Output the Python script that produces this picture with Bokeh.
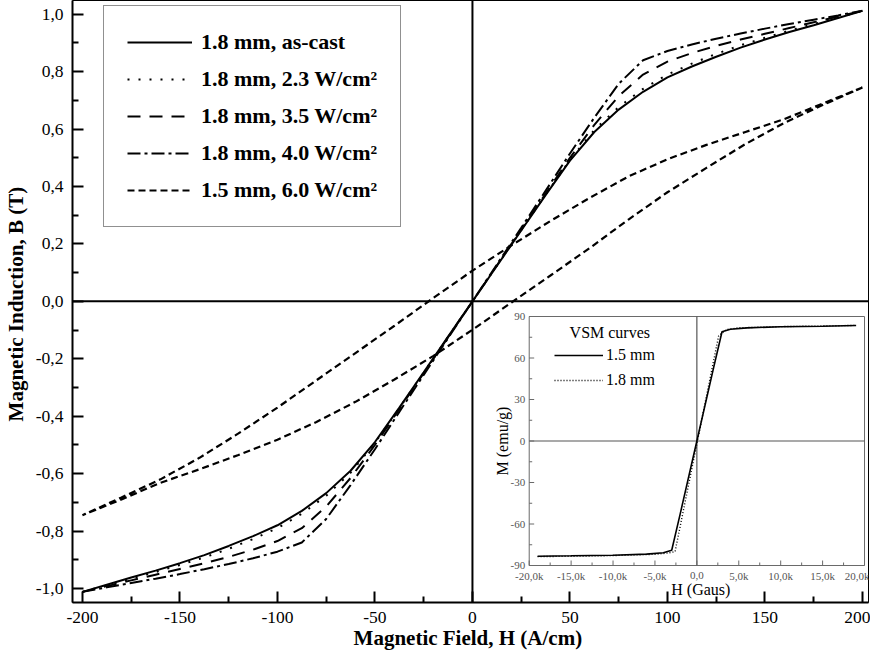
import math
from bokeh.plotting import figure
from bokeh.models import (Range1d, FixedTicker, CustomJSTickFormatter, Span, Legend,
                          LegendItem, Label)
from bokeh.core.properties import value
from bokeh.embed import file_html
from bokeh.resources import INLINE

# ---------------- main chart data (H in A/cm, B in T) ----------------
H_STEP = [-200, -187.5, -175, -162.5, -150, -137.5, -125, -112.5, -100, -87.5, -75, -62.5, -50, -37.5, -25, -12.5,
          0, 12.5, 25, 37.5, 50, 62.5, 75, 87.5, 100, 112.5, 125, 137.5, 150, 162.5, 175, 187.5, 200]
B_ASCAST = [-1.012, -0.987, -0.962, -0.938, -0.912, -0.884, -0.852, -0.818, -0.78, -0.73, -0.668, -0.59, -0.49, -0.37, -0.247, -0.123,
            0.0, 0.123, 0.247, 0.37, 0.49, 0.59, 0.668, 0.73, 0.78, 0.818, 0.852, 0.884, 0.912, 0.938, 0.962, 0.987, 1.012]
B_23 = [-1.012, -0.989, -0.966, -0.943, -0.918, -0.892, -0.862, -0.828, -0.79, -0.74, -0.677, -0.597, -0.493, -0.372, -0.248, -0.124,
        0.0, 0.124, 0.248, 0.372, 0.493, 0.597, 0.677, 0.74, 0.79, 0.828, 0.862, 0.892, 0.918, 0.943, 0.966, 0.989, 1.012]
B_35 = [-1.012, -0.992, -0.972, -0.952, -0.932, -0.912, -0.89, -0.865, -0.835, -0.79, -0.715, -0.615, -0.5, -0.375, -0.25, -0.125,
        0.0, 0.125, 0.25, 0.375, 0.5, 0.615, 0.715, 0.79, 0.835, 0.865, 0.89, 0.912, 0.932, 0.952, 0.972, 0.992, 1.012]
B_40 = [-1.012, -0.996, -0.981, -0.966, -0.95, -0.933, -0.915, -0.895, -0.872, -0.84, -0.758, -0.64, -0.515, -0.385, -0.256, -0.128,
        0.0, 0.128, 0.256, 0.385, 0.515, 0.64, 0.758, 0.84, 0.872, 0.895, 0.915, 0.933, 0.95, 0.966, 0.981, 0.996, 1.012]

# 1.5 mm, 6.0 W/cm2 : hysteresis loop (descending branch then ascending branch)
H_60_DESC = [200, 180, 160, 140, 120, 100, 80, 60, 40, 20, 0, -20, -40, -60, -80, -100, -120, -140, -160, -180, -200]
B_60_DESC = [0.745, 0.69, 0.635, 0.59, 0.545, 0.495, 0.435, 0.36, 0.28, 0.195, 0.107, 0.012, -0.085, -0.18, -0.275,
             -0.37, -0.46, -0.545, -0.62, -0.683, -0.745]
H_60_ASC = [-200, -180, -160, -140, -120, -100, -80, -60, -40, -20, 0, 20, 40, 60, 80, 100, 120, 140, 160, 180, 200]
B_60_ASC = [-0.745, -0.69, -0.632, -0.585, -0.535, -0.482, -0.42, -0.35, -0.272, -0.19, -0.099, -0.004, 0.09, 0.185,
            0.285, 0.38, 0.465, 0.548, 0.622, 0.685, 0.745]

SERIES_LABELS = ["1.8 mm, as-cast", "1.8 mm, 2.3 W/cm\u00b2", "1.8 mm, 3.5 W/cm\u00b2",
                 "1.8 mm, 4.0 W/cm\u00b2", "1.5 mm, 6.0 W/cm\u00b2"]

X_TICKS = [-200, -150, -100, -50, 0, 50, 100, 150, 200]
Y_TICKS = [-1.0, -0.8, -0.6, -0.4, -0.2, 0.0, 0.2, 0.4, 0.6, 0.8, 1.0]

# ---------------- inset data (VSM curves) ----------------
H_VSM15 = [-19000, -15000, -10000, -6000, -4000, -3000, -2000, 0, 2000, 3000, 4000, 6000, 10000, 15000, 19000]
M_VSM15 = [-83.3, -83.0, -82.6, -81.8, -80.8, -79.0, -53.0, 0.0, 53.0, 79.0, 80.8, 81.8, 82.6, 83.0, 83.5]
H_VSM18 = [-19000, -15000, -10000, -5000, -3500, -2600, -1500, 0, 1500, 2600, 3500, 5000, 10000, 15000, 19000]
M_VSM18 = [-83.6, -83.3, -82.8, -81.9, -81.0, -80.0, -47.0, -2.0, 43.0, 76.0, 80.5, 81.8, 82.7, 83.1, 83.6]
VSM_LABELS = ["1.5 mm", "1.8 mm"]

INSET_X_TICKS = [-20000, -15000, -10000, -5000, 0, 5000, 10000, 15000, 20000]
INSET_X_LABELS = ["-20,0k", "-15,0k", "-10,0k", "-5,0k", "0,0", "5,0k", "10,0k", "15,0k", "20,0k"]
INSET_Y_TICKS = [-90, -60, -30, 0, 30, 60, 90]
INSET_Y_LABELS = ["-90", "-60", "-30", "0", "30", "60", "90"]

# ---------------- layout geometry (page pixels) ----------------
FIG_W, FIG_H = 870, 658
FRAME_L, FRAME_R, FRAME_T, FRAME_B = 76, 876, 8, 610
INSET_L, INSET_R, INSET_T, INSET_B = 535, 872, 324, 573
SERIF = "Liberation Serif"

p = figure(width=FIG_W, height=FIG_H, output_backend="svg", toolbar_location=None,
           x_range=Range1d(-205.1, 203.1), y_range=Range1d(-1.049, 1.048),
           min_border_left=FRAME_L - 8, min_border_right=8 + FIG_W - FRAME_R,
           min_border_top=FRAME_T - 8, min_border_bottom=8 + FIG_H - FRAME_B)
p.xgrid.visible = False
p.ygrid.visible = False
p.outline_line_color = "black"
p.outline_line_width = 1
p.background_fill_color = "white"
p.border_fill_color = "white"

for ax in (p.xaxis[0], p.yaxis[0]):
    ax.axis_line_width = 2
    ax.major_tick_line_width = 2
    ax.minor_tick_line_width = 2
    ax.major_tick_in = 11
    ax.major_tick_out = 0
    ax.minor_tick_in = 6
    ax.minor_tick_out = 0
    ax.major_label_text_font = SERIF
    ax.major_label_text_font_size = "17.5px"
    ax.major_label_text_color = "black"
    ax.axis_label_text_font = SERIF
    ax.axis_label_text_font_style = "bold"
    ax.axis_label_text_font_size = "21px"
    ax.axis_label_text_color = "black"

p.xaxis.ticker = FixedTicker(ticks=X_TICKS,
                             minor_ticks=[(a + b) / 2 for a, b in zip(X_TICKS[:-1], X_TICKS[1:])])
p.yaxis.ticker = FixedTicker(ticks=Y_TICKS,
                             minor_ticks=[(a + b) / 2 for a, b in zip(Y_TICKS[:-1], Y_TICKS[1:])])
p.xaxis.formatter = CustomJSTickFormatter(code="return tick.toFixed(0);")
p.yaxis.formatter = CustomJSTickFormatter(code="return tick.toFixed(1).replace('.', ',');")
p.xaxis.axis_label = "Magnetic Field,  H (A/cm)"
p.yaxis.axis_label = "Magnetic Induction, B  (T)"
p.xaxis.major_label_standoff = 9
p.xaxis.axis_label_standoff = 0
p.yaxis.major_label_standoff = 9
p.yaxis.axis_label_standoff = 5

# zero lines
p.add_layout(Span(location=0, dimension="height", line_color="black", line_width=2))
p.add_layout(Span(location=0, dimension="width", line_color="black", line_width=2))

# main curves
r_ascast = p.line(H_STEP, B_ASCAST, line_color="black", line_width=2)
r_23 = p.line(H_STEP, B_23, line_color="black", line_width=2, line_dash="2 9")
r_35 = p.line(H_STEP, B_35, line_color="black", line_width=2, line_dash="13 9")
r_40 = p.line(H_STEP, B_40, line_color="black", line_width=2, line_dash="13 4 3 4")
r_60 = p.line(H_60_DESC + H_60_ASC, B_60_DESC + B_60_ASC, line_color="black", line_width=2.2,
              line_dash="7 4")

main_legend = Legend(items=[LegendItem(label=l, renderers=[r]) for l, r in
                            zip(SERIES_LABELS, [r_ascast, r_23, r_35, r_40, r_60])],
                     location=(31, FRAME_B - 235), label_text_font=SERIF, label_text_font_style="bold",
                     label_text_font_size="22px", label_text_color="black",
                     glyph_width=65, glyph_height=20, label_height=20, label_standoff=9, padding=23,
                     spacing=11, border_line_color="#222222", border_line_width=1.5,
                     background_fill_color="white", background_fill_alpha=1.0)
p.add_layout(main_legend, "center")

# ---------------- inset drawn with its own ranges ----------------
ix_px = (INSET_X_TICKS[-1] - INSET_X_TICKS[0]) / (INSET_R - INSET_L)
iy_px = (INSET_Y_TICKS[-1] - INSET_Y_TICKS[0]) / (INSET_B - INSET_T)
p.extra_x_ranges = {"ix": Range1d(INSET_X_TICKS[0] - (INSET_L - FRAME_L) * ix_px,
                                  INSET_X_TICKS[-1] + (FRAME_R - INSET_R) * ix_px)}
p.extra_y_ranges = {"iy": Range1d(INSET_Y_TICKS[0] - (FRAME_B - INSET_B) * iy_px,
                                  INSET_Y_TICKS[-1] + (INSET_T - FRAME_T) * iy_px)}
RN = dict(x_range_name="ix", y_range_name="iy")
x0, x1 = INSET_X_TICKS[0], INSET_X_TICKS[-1]
y0, y1 = INSET_Y_TICKS[0], INSET_Y_TICKS[-1]
GRAY = "#6a6a6a"

p.quad(left=[x0], right=[x1], bottom=[y0], top=[y1], fill_color="white", line_color=GRAY,
       line_width=1, **RN)
# inset zero lines
p.segment(x0=[x0, 0], y0=[0, y0], x1=[x1, 0], y1=[0, y1], line_color="#555555", line_width=1.2, **RN)

# inset ticks
ymin = [(a + b) / 2 for a, b in zip(INSET_Y_TICKS[:-1], INSET_Y_TICKS[1:])]
xmin = [(a + b) / 2 for a, b in zip(INSET_X_TICKS[:-1], INSET_X_TICKS[1:])]
p.segment(x0=[x0] * len(INSET_Y_TICKS), y0=INSET_Y_TICKS, x1=[x0 + 5 * ix_px] * len(INSET_Y_TICKS),
          y1=INSET_Y_TICKS, line_color=GRAY, line_width=1, **RN)
p.segment(x0=[x0] * len(ymin), y0=ymin, x1=[x0 + 3 * ix_px] * len(ymin), y1=ymin,
          line_color=GRAY, line_width=1, **RN)
p.segment(x0=INSET_X_TICKS, y0=[y0] * len(INSET_X_TICKS), x1=INSET_X_TICKS,
          y1=[y0 + 5 * iy_px] * len(INSET_X_TICKS), line_color=GRAY, line_width=1, **RN)
p.segment(x0=xmin, y0=[y0] * len(xmin), x1=xmin, y1=[y0 + 3 * iy_px] * len(xmin),
          line_color=GRAY, line_width=1, **RN)

# inset tick labels
p.text(x=[x0 - 4 * ix_px] * len(INSET_Y_TICKS), y=INSET_Y_TICKS, text=INSET_Y_LABELS,
       text_font=value(SERIF), text_font_size=value("11px"), text_color="#555555",
       text_align="right", text_baseline="middle", **RN)
# the last label would run past the page edge: keep it inside by right-aligning it
x_aligns = ["center"] * (len(INSET_X_TICKS) - 1) + ["right"]
x_pos = list(INSET_X_TICKS[:-1]) + [INSET_X_TICKS[-1] + 5 * ix_px]
p.text(x=x_pos, y=[y0 - 10 * iy_px] * len(INSET_X_TICKS), text=INSET_X_LABELS,
       text_font=value(SERIF), text_font_size=value("11px"), text_color="#555555",
       text_align=x_aligns, text_baseline="middle", **RN)
p.add_layout(Label(x=4 * ix_px, y=y0 - 24 * iy_px, text="H (Gaus)", text_font=SERIF,
                   text_font_size="16px", text_color="black", text_align="center",
                   text_baseline="middle", **RN))
p.add_layout(Label(x=x0 - 27 * ix_px, y=0, text="M (emu/g)", text_font=SERIF,
                   text_font_size="16px", text_color="black", text_align="center",
                   text_baseline="middle", angle=math.pi / 2, **RN))
p.add_layout(Label(x=x0 + (616 - INSET_L) * ix_px, y=y1 - (340 - INSET_T) * iy_px, text="VSM curves",
                   text_font=SERIF, text_font_size="16px", text_color="black", text_align="center",
                   text_baseline="middle", **RN))

ri15 = p.line(H_VSM15, M_VSM15, line_color="black", line_width=1.6, **RN)
ri18 = p.line(H_VSM18, M_VSM18, line_color="black", line_width=1.4, line_dash="1 2", **RN)

inset_legend = Legend(items=[LegendItem(label=l, renderers=[r]) for l, r in zip(VSM_LABELS, [ri15, ri18])],
                      location=(556 - FRAME_L, FRAME_B - 399), label_text_font=SERIF,
                      label_text_font_size="16px", label_text_color="black",
                      glyph_width=49, glyph_height=16, label_standoff=3, padding=2, spacing=7,
                      border_line_alpha=0, background_fill_alpha=0)
p.add_layout(inset_legend, "center")

open("out.html", "w").write(file_html(p, INLINE))
